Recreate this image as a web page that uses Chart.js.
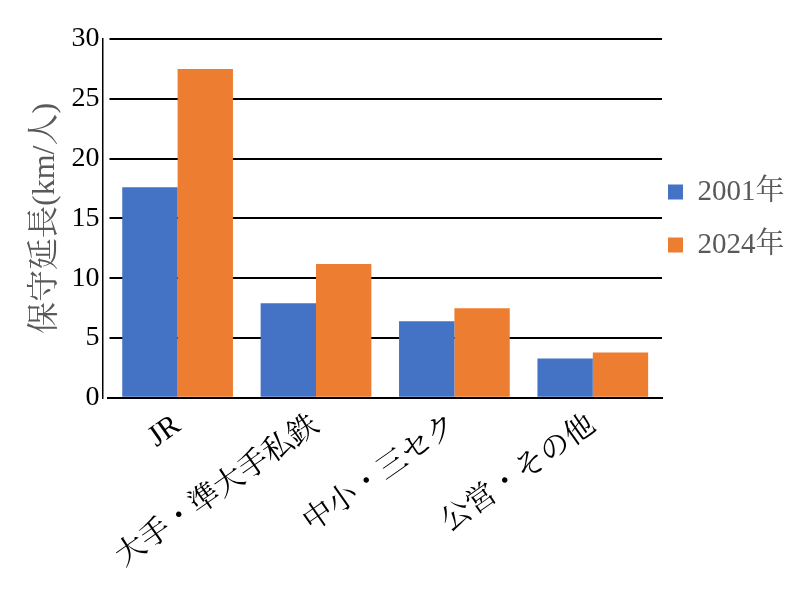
<!DOCTYPE html>
<html>
<head>
<meta charset="utf-8">
<script src="https://cdn.jsdelivr.net/npm/chart.js@4/dist/chart.umd.min.js"></script>
<style>
  html, body { margin: 0; padding: 0; background: #fff; }
  #wrap { width: 800px; height: 594px; }
</style>
</head>
<body>
<div id="wrap"><canvas id="grafico"></canvas></div>
<script>
// Datos
const categorias = ['JR', '大手・準大手私鉄', '中小・三セク', '公営・その他']
const valores2001 = [17.6, 7.9, 6.4, 3.3]
const valores2024 = [27.5, 11.2, 7.5, 3.8]
const series = ['2001年', '2024年']

const fuente = "'Liberation Serif', 'Noto Serif CJK JP', 'Noto Sans CJK JP', serif"

// Acerca la leyenda al area del grafico y le da todo el ancho restante (para que no se corte el texto)
const moverLeyenda = {
    id: 'moverLeyenda',
    afterLayout(chart) {
        const leyenda = chart.legend
        if (leyenda) {
            leyenda.left -= 18
            leyenda.right = chart.width
            leyenda.width = leyenda.right - leyenda.left
        }
    }
}

const ctx = document.querySelector('#grafico').getContext('2d')
const myChart = new Chart(ctx, {
    type: 'bar',
    data: {
        labels: categorias,
        datasets: [{
            label: series[0],
            data: valores2001,
            backgroundColor: '#4472C4',
            categoryPercentage: 0.8,
            barPercentage: 1.0
        }, {
            label: series[1],
            data: valores2024,
            backgroundColor: '#ED7D31',
            categoryPercentage: 0.8,
            barPercentage: 1.0
        }]
    },
    options: {
        responsive: true,
        maintainAspectRatio: false,
        animation: false,
        layout: {
            padding: { top: 39, right: 10, left: 22, bottom: 17 }
        },
        plugins: {
            legend: {
                position: 'right',
                fullSize: false,
                labels: {
                    boxWidth: 15,
                    boxHeight: 15,
                    padding: 24,
                    color: '#595959',
                    font: { family: fuente, size: 29 }
                }
            },
            tooltip: { enabled: false }
        },
        scales: {
            x: {
                grid: { display: false },
                border: { color: '#000', width: 2 },
                ticks: {
                    color: '#000',
                    minRotation: 35,
                    maxRotation: 35,
                    padding: 2,
                    font: { family: fuente, size: 30 }
                }
            },
            y: {
                min: 0,
                max: 30,
                weight: 1,
                ticks: {
                    stepSize: 5,
                    color: '#000',
                    padding: 3,
                    font: { family: fuente, size: 28 }
                },
                grid: { color: '#000', lineWidth: 2, drawTicks: false },
                border: { display: true, color: '#000', width: 1.5 },
                title: {
                    display: true,
                    text: '保守延長(km/人)',
                    color: '#595959',
                    font: { family: fuente, size: 32 }
                }
            },
            // eje vacio solo para dejar el pequeño hueco entre el eje y las lineas
            yHueco: {
                position: 'left',
                weight: 0,
                min: 0,
                max: 30,
                ticks: { display: false },
                grid: { display: true, color: 'rgba(0,0,0,0)', drawTicks: true, tickLength: 6 },
                border: { display: false }
            }
        }
    },
    plugins: [moverLeyenda]
})
</script>
</body>
</html>
